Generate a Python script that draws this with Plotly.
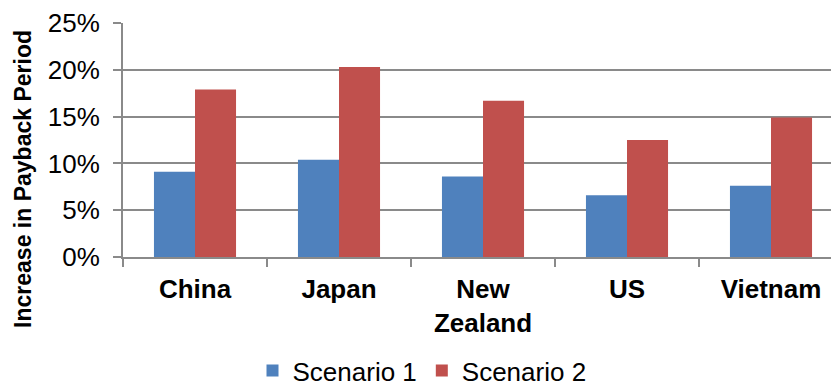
import plotly.graph_objects as go

countries = ["China", "Japan", "New<br>Zealand", "US", "Vietnam"]
scenario1 = [0.091, 0.104, 0.086, 0.066, 0.076]
scenario2 = [0.179, 0.203, 0.167, 0.125, 0.149]
series_names = ["Scenario 1", "Scenario 2"]
y_title = "Increase in Payback Period"

W, H = 831, 387
ML, MR, MT, MB = 123, 0, 23, 130
plot_w = W - ML - MR

fig = go.Figure()
fig.add_trace(go.Bar(x=countries, y=scenario1, name=series_names[0],
                     marker=dict(color="#4F81BD", line=dict(width=0))))
fig.add_trace(go.Bar(x=countries, y=scenario2, name=series_names[1],
                     marker=dict(color="#C0504D", line=dict(width=0))))

x_end = -0.5 + plot_w / 144.0

fig.update_layout(
    width=W, height=H,
    margin=dict(l=ML, r=MR, t=MT, b=MB, autoexpand=False),
    paper_bgcolor="white", plot_bgcolor="white",
    barmode="group", bargap=0.43, bargroupgap=0,
    font=dict(family="Liberation Sans, Arial, sans-serif", color="black"),
    showlegend=True,
    legend=dict(orientation="h", x=(422 - ML) / plot_w, xanchor="center",
                y=-0.485, yanchor="middle", font=dict(size=26),
                itemsizing="constant", tracegroupgap=0),
    xaxis=dict(range=[-0.5, x_end], showline=True, linecolor="#8a8a8a", linewidth=2,
               ticks="outside", tickson="boundaries", ticklen=8, tickcolor="#8a8a8a",
               tickwidth=2, tickfont=dict(size=26, family="Liberation Sans, Arial, sans-serif"),
               ticklabelstandoff=8, showgrid=False, fixedrange=True),
    yaxis=dict(range=[0, 0.25], dtick=0.05, tickformat=".0%", showline=True,
               linecolor="#8a8a8a", linewidth=2, ticks="outside", ticklen=8,
               tickcolor="#8a8a8a", tickwidth=2, showgrid=True, gridcolor="#8a8a8a",
               gridwidth=2, tickfont=dict(size=26), ticklabelstandoff=8, zeroline=False),
    annotations=[dict(text="<b>" + y_title + "</b>", textangle=-90, xref="paper", yref="paper",
                      x=(23 - ML) / plot_w, y=(257.3 - 179) / 234.6,
                      xanchor="center", yanchor="middle", showarrow=False,
                      font=dict(size=23, family="Liberation Sans, Arial, sans-serif"))],
)
fig.update_xaxes(ticktext=["<b>" + c + "</b>" for c in countries], tickvals=countries)

fig.write_html("out.html")
